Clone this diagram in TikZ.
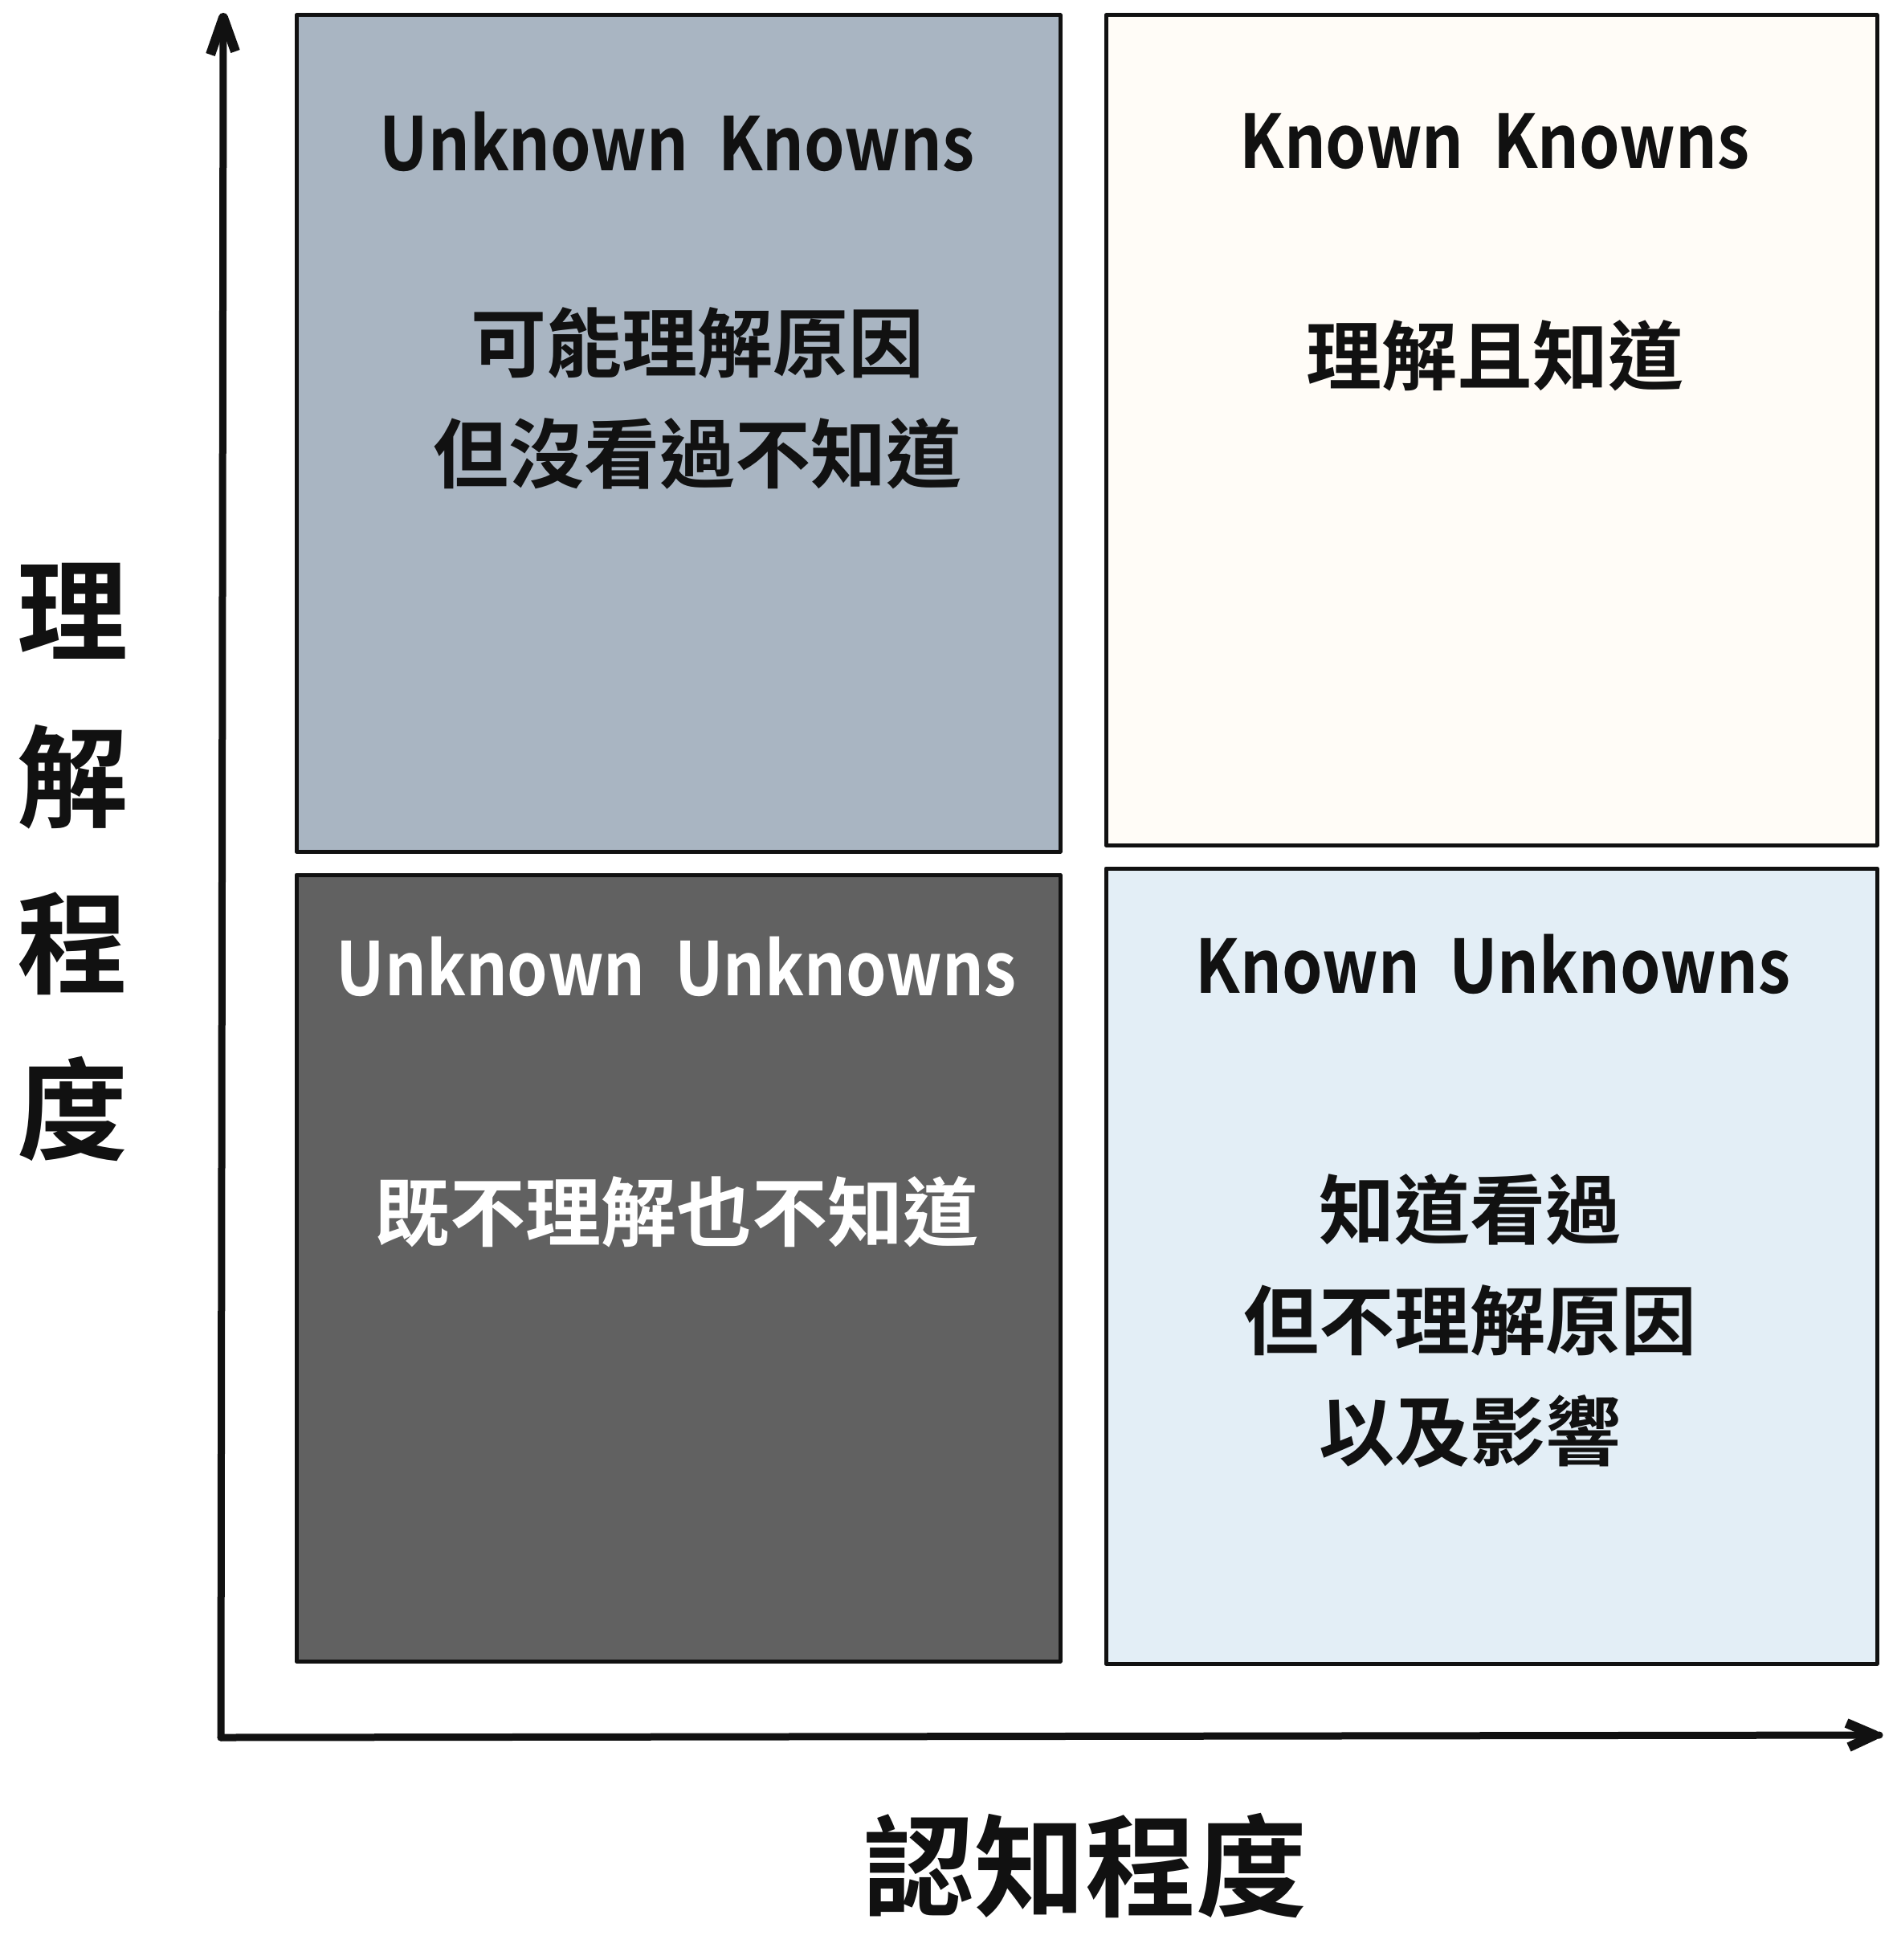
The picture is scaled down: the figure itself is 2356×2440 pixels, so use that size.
\documentclass[tikz,border=0pt]{standalone}
\usepackage{fontspec}
\setmainfont{Noto Sans CJK TC}[BoldFont={* Bold}]
\usetikzlibrary{positioning}
\definecolor{slate}{HTML}{A9B5C2}
\definecolor{cream}{HTML}{FFFCF7}
\definecolor{charcoal}{HTML}{616161}
\definecolor{mist}{HTML}{E3EEF6}
\definecolor{ink}{HTML}{111111}
\newcommand{\gap}{\hspace{0.45em}}
\tikzset{
  quad/.style={draw=ink, line width=5pt, line join=round},
  axis/.style={draw=ink, line width=9pt, line cap=round, line join=round},
  barb/.style={draw=ink, line width=12pt, line cap=butt, line join=round},
  head/.style={font=\fontsize{92}{100}\selectfont\bfseries, text=ink, inner sep=0pt},
  body/.style={font=\fontsize{94}{138}\selectfont\bfseries, text=ink, inner sep=0pt, align=center},
  axislabel/.style={font=\fontsize{138}{207}\selectfont\bfseries, text=ink, inner sep=0pt, align=center},
}
\begin{document}
\begin{tikzpicture}[x=1pt,y=-1pt]
  \useasboundingbox (0,0) rectangle (2356,2440);
  \fill[white] (0,0) rectangle (2356,2440);

  % quadrants
  \draw[quad, fill=slate]    (369,19)   rectangle (1320,1060);
  \draw[quad, fill=cream]    (1377,19)  rectangle (2337,1052);
  \draw[quad, fill=charcoal] (369,1089) rectangle (1320,2068);
  \draw[quad, fill=mist]     (1377,1081) rectangle (2337,2071);

  % quadrant titles
  \node[head] (uk) at (843,176) {\scalebox{0.88}[1]{Unknown\gap Knowns}};
  \node[head] (kk) at (1861,176) {\scalebox{0.88}[1]{Known\gap Knowns}};
  \node[head, text=white] (uu) at (842,1203) {\scalebox{0.88}[1]{Unknown\gap Unknowns}};
  \node[head] (ku) at (1859,1200) {\scalebox{0.88}[1]{Known\gap Unknowns}};

  % quadrant descriptions
  \node[body] (ukd) at (868,496) {可能理解原因\\但沒看過不知道};
  \node[body] (kkd) at (1861,443) {理解且知道};
  \node[body, text=white] (uud) at (842,1509) {既不理解也不知道};
  \node[body] (kud) at (1830,1644) {知道看過\\但不理解原因\\以及影響};

  % axes
  \coordinate (origin) at (275,2163);
  \coordinate (ytip) at (278,28);
  \coordinate (xtip) at (2340,2160);
  \draw[axis] (origin) -- (ytip);
  \draw[barb] (262,68) -- ([yshift=6pt]ytip) -- (293,64);
  \draw[axis] (origin) -- (xtip);
  \draw[barb] (2299,2145) -- ([xshift=-6pt]xtip) -- (2302,2175);

  % axis labels
  \node[axislabel] (ylab) at (90,1073) {理\\解\\程\\度};
  \node[axislabel] (xlab) at (1351,2322) {認知程度};
\end{tikzpicture}
\end{document}
